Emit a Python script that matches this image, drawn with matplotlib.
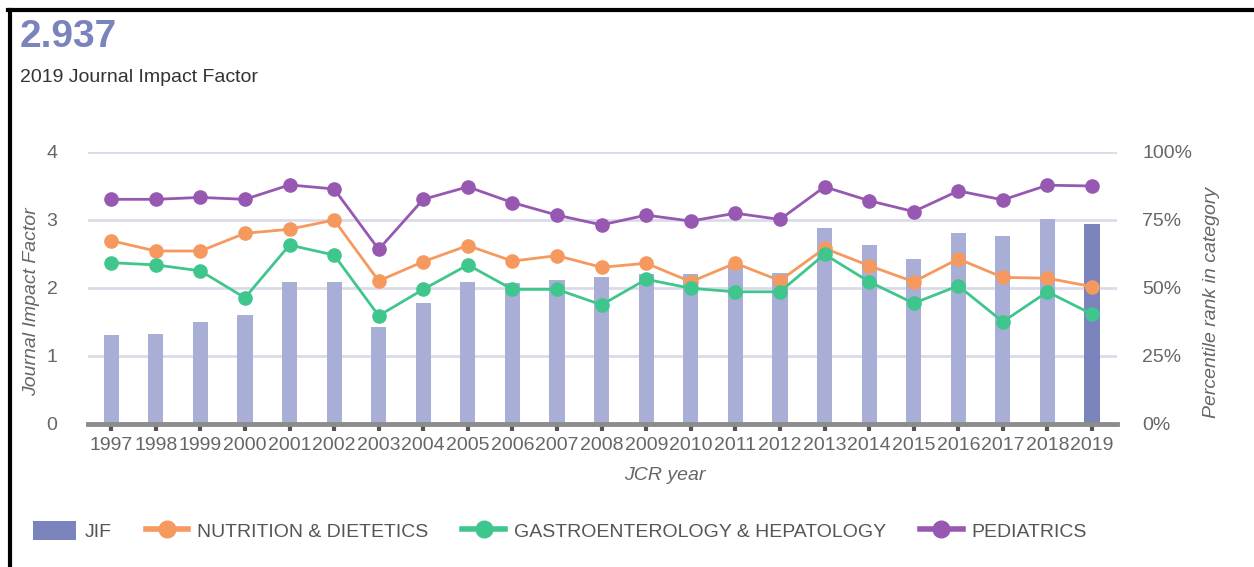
import numpy as np
import matplotlib
matplotlib.use('Agg')
import matplotlib.pyplot as plt
from matplotlib.lines import Line2D
from matplotlib.patches import Patch
from matplotlib.ticker import FuncFormatter

plt.rcParams['font.family'] = ['Liberation Sans', 'DejaVu Sans']

years = [str(y) for y in range(1997, 2020)]
jif = [1.31, 1.33, 1.50, 1.60, 2.09, 2.09, 1.42, 1.78, 2.09, 2.07, 2.12, 2.16,
       2.20, 2.20, 2.34, 2.22, 2.88, 2.63, 2.43, 2.81, 2.77, 3.02, 2.937]
nutrition = [67.4, 63.6, 63.6, 70.1, 71.6, 75.0, 52.6, 59.7, 65.6, 59.9, 61.9, 57.6,
             59.1, 52.3, 59.1, 52.7, 64.6, 58.2, 52.3, 60.7, 53.9, 53.6, 50.5]
gastro = [59.3, 58.5, 56.3, 46.4, 65.8, 62.1, 39.8, 49.5, 58.5, 49.5, 49.5, 43.8,
          53.2, 49.9, 48.6, 48.6, 62.4, 52.3, 44.4, 50.8, 37.6, 48.6, 40.4]
pediatrics = [82.6, 82.6, 83.3, 82.6, 87.9, 86.4, 64.2, 82.6, 87.2, 81.4, 76.8, 73.2,
              76.8, 74.6, 77.5, 75.2, 87.2, 82.1, 78.1, 85.7, 82.4, 87.8, 87.5]

bar_c = '#a9aed6'
bar_last = '#7b83bd'
orange = '#f5995f'
green = '#3fc68d'
purple = '#9758b1'
grid_c = '#dcdae9'
txt_c = '#666666'

W, H = 1254, 567
fig = plt.figure(figsize=(W / 100, H / 100), dpi=100)
ax = fig.add_axes([88 / W, 1 - 424 / H, (1117 - 88) / W, (424 - 152) / H])
ax2 = ax.twinx()

x = np.arange(len(years))
colors = [bar_c] * (len(years) - 1) + [bar_last]
ax.bar(x, jif, width=0.34, color=colors, zorder=2)
ax.set_xlim(-0.52, 22.56)
ax.set_ylim(0, 4)
ax.set_yticks([0, 1, 2, 3, 4])
ax.set_axisbelow(True)
ax.yaxis.grid(True, color=grid_c, lw=2)
ax.set_xticks(x)
ax.set_xticklabels(years)

for a in (ax, ax2):
    for s in ('left', 'right', 'top'):
        a.spines[s].set_visible(False)
ax.spines['bottom'].set_color('#8c8c8c')
ax.spines['bottom'].set_linewidth(3.5)
ax2.spines['bottom'].set_visible(False)

ax.tick_params(axis='x', length=5, width=3, color='#555555', labelsize=14,
               labelcolor=txt_c, pad=4)
ax.tick_params(axis='y', length=0, labelsize=14, labelcolor=txt_c, pad=22)

kw = dict(lw=2, marker='o', ms=9.5, zorder=3)
ax2.plot(x, nutrition, color=orange, **kw)
ax2.plot(x, gastro, color=green, **kw)
ax2.plot(x, pediatrics, color=purple, **kw)
ax2.set_ylim(0, 100)
ax2.set_yticks([0, 25, 50, 75, 100])
ax2.yaxis.set_major_formatter(FuncFormatter(lambda v, p: '%d%%' % v))
ax2.tick_params(axis='y', length=0, labelsize=14, labelcolor=txt_c, pad=18)

fig.text(32 / W, 1 - 302 / H, 'Journal Impact Factor', rotation=90, style='italic',
         fontsize=14, color=txt_c, ha='center', va='center')
fig.text(1212 / W, 1 - 302 / H, 'Percentile rank in category', rotation=90,
         style='italic', fontsize=14, color=txt_c, ha='center', va='center')
fig.text(665 / W, 1 - 476 / H, 'JCR year', style='italic', fontsize=14,
         color=txt_c, ha='center', va='center')

fig.text(20 / W, 1 - 37 / H, '2.937', fontsize=28, fontweight='bold',
         color=bar_last, ha='left', va='center')
fig.text(20 / W, 1 - 78 / H, '2019 Journal Impact Factor', fontsize=14,
         color='#333333', ha='left', va='center')

handles = [
    Patch(facecolor=bar_last, edgecolor='none'),
    Line2D([], [], color=orange, lw=4, marker='o', ms=12),
    Line2D([], [], color=green, lw=4, marker='o', ms=12),
    Line2D([], [], color=purple, lw=4, marker='o', ms=12),
]
labels = ['JIF', 'NUTRITION & DIETETICS', 'GASTROENTEROLOGY & HEPATOLOGY', 'PEDIATRICS']
leg = fig.legend(handles, labels, loc='center left', bbox_to_anchor=(33 / W, 1 - 531 / H),
                 ncol=4, frameon=False, fontsize=14, handlelength=2.2, handleheight=1.1,
                 handletextpad=0.45, columnspacing=1.75, borderpad=0, borderaxespad=0)
for t in leg.get_texts():
    t.set_color('#555555')

# screenshot frame (top and left edge)
fig.add_artist(Line2D([9.5 / W, 9.5 / W], [0, 1 - 9.5 / H], color='black', lw=3,
                      transform=fig.transFigure))
fig.add_artist(Line2D([8 / W, 1], [1 - 9.5 / H, 1 - 9.5 / H], color='black', lw=3,
                      transform=fig.transFigure))

fig.savefig('out.png', dpi=100)
